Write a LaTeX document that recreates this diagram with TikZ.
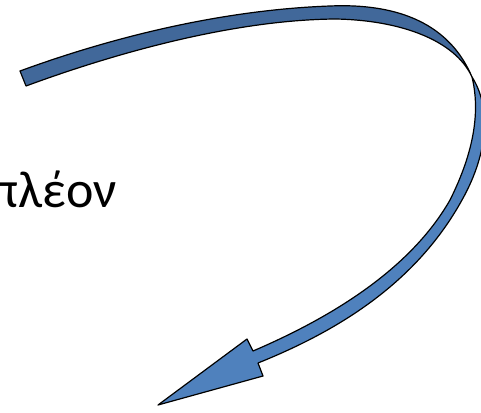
\documentclass[tikz,border=0pt]{standalone}
\usepackage{fontspec}
\setmainfont{Carlito}
\definecolor{ribback}{HTML}{41689A}
\definecolor{ribfront}{HTML}{4F81BD}

\begin{document}
\begin{tikzpicture}[
  x=1pt, y=-1pt,
  ribbon/.style={draw=black, line width=1.2pt, line join=round},
  word/.style={font=\fontsize{52}{60}\selectfont, inner sep=0pt}
]
\useasboundingbox (0,0) rectangle (481,412);
% the word, cut at the left edge
\node[word, anchor=base east] (plEon) at (117,207) {πλέον};
% back of the ribbon, tail up to the twist
\draw[ribbon, fill=ribback]
  (20,71) .. controls (110,38) and (220,10) .. (330,6)
  .. controls (400,3) and (450,25) .. (472,77)
  .. controls (455,40) and (400,20) .. (335,19)
  .. controls (230,20) and (110,55) .. (26,86)
  -- cycle;
% front of the ribbon, twist down to the head
\draw[ribbon, fill=ribfront]
  (472,77) .. controls (480,110) and (475,150) .. (450,200)
  .. controls (410,270) and (330,318) .. (253,351)
  -- (247,339) -- (158,405) -- (263,376) -- (258,363)
  .. controls (335,332) and (415,285) .. (462,200)
  .. controls (490,150) and (490,105) .. (472,77)
  -- cycle;
\end{tikzpicture}
\end{document}
